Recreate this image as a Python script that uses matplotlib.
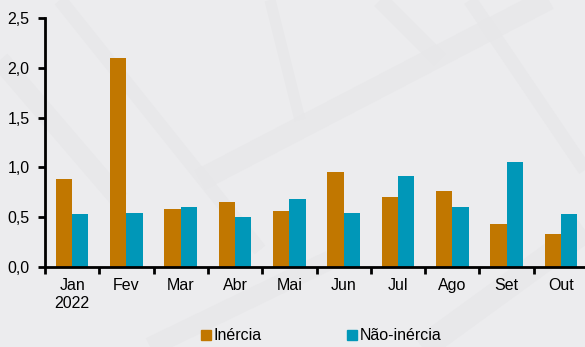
import numpy as np
import matplotlib.pyplot as plt
from matplotlib.patches import Patch

plt.rcParams['font.family'] = ['Liberation Sans', 'DejaVu Sans']

meses = ['Jan\n2022', 'Fev', 'Mar', 'Abr', 'Mai', 'Jun', 'Jul', 'Ago', 'Set', 'Out']
inercia = [0.88, 2.10, 0.58, 0.65, 0.56, 0.95, 0.70, 0.76, 0.43, 0.33]
nao_inercia = [0.53, 0.54, 0.60, 0.50, 0.68, 0.54, 0.91, 0.60, 1.05, 0.53]

cor_inercia = '#C17700'
cor_nao = '#0097B8'
fundo = '#ECECEE'

fig = plt.figure(figsize=(5.85, 3.47), dpi=100, facecolor=fundo)

# faixas claras no fundo
bg = fig.add_axes([0, 0, 1, 1], zorder=-1)
bg.set_xlim(0, 585)
bg.set_ylim(347, 0)
bg.axis('off')
faixas = [((0, 60), (120, 200), 14), ((60, 0), (260, 250), 10), ((200, 180), (585, -20), 16),
          ((380, 0), (440, 60), 12), ((470, 0), (585, 170), 10), ((420, 350), (585, 230), 18),
          ((150, 347), (330, 260), 14), ((270, 0), (300, 120), 8)]
for (x0, y0), (x1, y1), w in faixas:
    bg.plot([x0, x1], [y0, y1], color='#E7E7E9', lw=w, solid_capstyle='butt', alpha=0.8)

ax = fig.add_axes([45 / 585, 1 - 267 / 347, 543 / 585, (267 - 18) / 347])
ax.set_facecolor('none')

x = np.arange(len(meses))
w = 0.3
ax.bar(x - w / 2, inercia, w, color=cor_inercia, label='Inércia')
ax.bar(x + w / 2, nao_inercia, w, color=cor_nao, label='Não-inércia')

ax.set_xlim(-0.5, len(meses) - 0.5)
ax.set_ylim(0, 2.5)
ax.set_yticks(np.arange(0, 2.51, 0.5))
ax.set_yticklabels([f'{v:.1f}'.replace('.', ',') for v in np.arange(0, 2.51, 0.5)])
ax.set_xticks(x)
ax.set_xticklabels(meses)
ax.set_xticks(np.arange(-0.5, len(meses)), minor=True)
ax.tick_params(axis='x', which='major', length=0, pad=8, labelsize=11.5)
ax.tick_params(axis='x', which='minor', length=5, width=2, direction='out')
ax.tick_params(axis='y', length=5, width=2, direction='out', labelsize=11.5, pad=6)

for s in ['top', 'right']:
    ax.spines[s].set_visible(False)
for s in ['left', 'bottom']:
    ax.spines[s].set_linewidth(2)

fig.legend(handles=[Patch(color=cor_inercia, label='Inércia'),
                    Patch(color=cor_nao, label='Não-inércia')],
           loc='center', bbox_to_anchor=(321 / 585, 1 - 336 / 347), ncol=2,
           frameon=False, fontsize=11.5, handlelength=0.65, handleheight=0.65,
           handletextpad=0.15, columnspacing=5.3)

fig.savefig('out.png', dpi=100, facecolor=fundo)
